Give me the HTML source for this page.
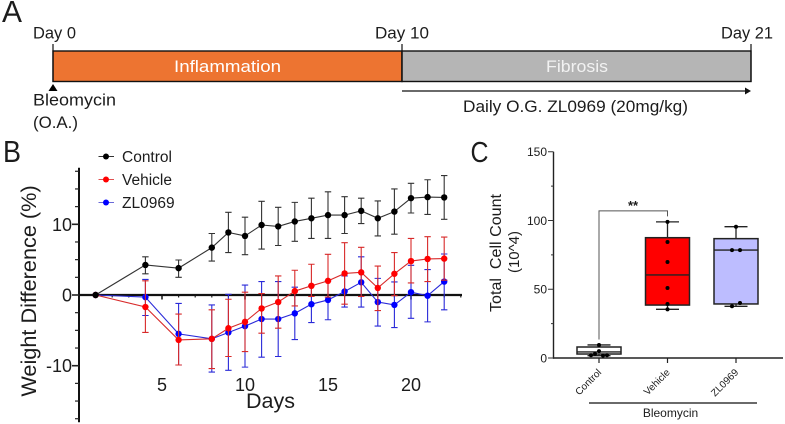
<!DOCTYPE html>
<html lang="en">
<head>
<meta charset="utf-8">
<title>Bleomycin study figure</title>
<style>
html,body{margin:0;padding:0;background:#fff;width:785px;height:424px;overflow:hidden}
svg{display:block}
text{font-family:"Liberation Sans",sans-serif;fill:#1c1c1c}
</style>
</head>
<body>
<svg id="fig" width="785" height="424" viewBox="0 0 785 424" xmlns="http://www.w3.org/2000/svg">
  <g id="panelA">
    <text x="2" y="22" font-size="31" textLength="20" lengthAdjust="spacingAndGlyphs">A</text>
    <text x="33" y="38.5" font-size="17" textLength="43" lengthAdjust="spacingAndGlyphs">Day 0</text>
    <text x="375" y="38.5" font-size="17" textLength="54" lengthAdjust="spacingAndGlyphs">Day 10</text>
    <text x="721" y="38.5" font-size="17" textLength="52" lengthAdjust="spacingAndGlyphs">Day 21</text>
    <rect x="53" y="51" width="349" height="30.5" fill="#ed7431" stroke="#111" stroke-width="1.4"/>
    <rect x="402" y="51" width="349" height="30.5" fill="#b5b5b5" stroke="#111" stroke-width="1.4"/>
    <path d="M53 44V82M402 44V82M751 44V82" stroke="#111" stroke-width="1.2" fill="none"/>
    <text x="174" y="72" font-size="17" textLength="107" lengthAdjust="spacingAndGlyphs" style="fill:#fff">Inflammation</text>
    <text x="546" y="72" font-size="17" textLength="62" lengthAdjust="spacingAndGlyphs" style="fill:#f2f2f2">Fibrosis</text>
    <path d="M53 84L57.5 91H48.5Z" fill="#000"/>
    <text x="33" y="105.5" font-size="17" textLength="83" lengthAdjust="spacingAndGlyphs">Bleomycin</text>
    <text x="33" y="128" font-size="17" textLength="45" lengthAdjust="spacingAndGlyphs">(O.A.)</text>
    <path d="M402 91H746" stroke="#111" stroke-width="1.2" fill="none"/>
    <path d="M751 91L745 87.5V94.5Z" fill="#111"/>
    <text x="463" y="112" font-size="17" textLength="225" lengthAdjust="spacingAndGlyphs">Daily O.G. ZL0969 (20mg/kg)</text>
  </g>
  <g id="panelB">
    <text x="3" y="162" font-size="31" textLength="18" lengthAdjust="spacingAndGlyphs">B</text>
    <text transform="translate(36 291) rotate(-90)" text-anchor="middle" font-size="21.7">Weight Difference (%)</text>
    <text x="246" y="408" font-size="21.5">Days</text>
  </g>
  <g id="panelC">
    <text x="470.5" y="162" font-size="29" textLength="18" lengthAdjust="spacingAndGlyphs">C</text>
    <text transform="translate(501 253) rotate(-90)" text-anchor="middle" font-size="15.5" textLength="118" lengthAdjust="spacingAndGlyphs" style="white-space:pre" xml:space="preserve">Total  Cell Count</text>
    <text transform="translate(519 252) rotate(-90)" text-anchor="middle" font-size="15">(10^4)</text>
    <text x="670.5" y="417" text-anchor="middle" font-size="12">Bleomycin</text>
    <path d="M589 403H757" stroke="#111" stroke-width="1.2" fill="none"/>
  </g>
</svg>
<script>
// Panel B data
const days = [1, 4, 6, 8, 9, 10, 11, 12, 13, 14, 15, 16, 17, 18, 19, 20, 21, 22];
const controlMean = [0, 4.25, 3.8, 6.7, 8.85, 8.35, 9.9, 9.7, 10.4, 10.85, 11.3, 11.3, 11.9, 10.85, 11.8, 13.7, 13.85, 13.8];
const controlHigh = [0, 5.4, 4.95, 8.7, 11.7, 11.0, 13.25, 12.4, 13.1, 13.7, 14.6, 13.9, 13.7, 13.3, 15.0, 15.8, 16.3, 16.9];
const controlLow = [0, 3.0, 2.5, 4.8, 6.0, 5.7, 6.5, 7.0, 7.6, 8.0, 8.0, 8.7, 10.1, 8.35, 8.6, 11.6, 11.4, 10.7];
const vehicleMean = [0, -1.7, -6.35, -6.2, -4.7, -3.8, -1.9, -1.0, 0.55, 1.3, 2.0, 3.05, 3.2, 1.0, 3.0, 4.8, 5.1, 5.15];
const vehicleHigh = [0, 2.0, -2.7, -2.1, -0.6, 0.4, 0.2, 2.7, 3.5, 4.35, 5.75, 7.4, 6.75, 4.1, 6.0, 8.0, 8.25, 8.2];
const vehicleLow = [0, -5.3, -9.9, -10.4, -8.7, -8.0, -5.4, -4.7, -1.55, -0.2, -0.3, -1.3, -0.2, -2.2, -0.1, 1.7, 1.9, 2.1];
const zlMean = [0, -0.3, -5.5, -6.2, -5.3, -4.4, -3.4, -3.4, -2.6, -1.3, -0.7, 0.5, 1.8, -1.0, -1.4, 0.4, -0.1, 1.9];
const zlHigh = [0, 2.2, -1.2, -1.4, 0.1, 1.4, 1.9, 1.9, 1.1, 1.3, 2.0, 2.7, 5.4, 2.35, 1.85, 4.2, 3.6, 5.8];
const zlLow = [0, -2.9, -9.9, -10.9, -10.65, -10.2, -8.8, -8.7, -6.3, -3.9, -3.5, -1.7, -1.7, -4.4, -4.6, -3.3, -3.8, -2.1];
const weightYTicks = [-10, 0, 10];
const dayTicks = [5, 10, 15, 20];
const legendNames = ["Control", "Vehicle", "ZL0969"];

// Panel C data
const groups = ["Control", "Vehicle", "ZL0969"];
const boxLow = [1.7, 35.4, 37.6];
const boxQ1 = [2.9, 38.5, 39.3];
const boxMedian = [4.4, 60.4, 78.5];
const boxQ3 = [8, 87.5, 86.8];
const boxHigh = [9.5, 99, 95.5];
const controlPoints = [9.5, 5, 3, 2, 2, 1.7];
const vehiclePoints = [99, 84.4, 69.8, 50.9, 39.3, 35.4];
const zlPoints = [95.5, 78.5, 78.5, 40, 37.6];
const countTicks = [0, 50, 100, 150];

const NS = "http://www.w3.org/2000/svg";
function mk(parent, tag, attrs, text) {
  const el = document.createElementNS(NS, tag);
  for (const k in attrs) el.setAttribute(k, attrs[k]);
  if (text !== undefined) el.textContent = text;
  parent.appendChild(el);
  return el;
}
const xB = d => 79 + 16.6 * d;
const yB = v => 295 - 7.07 * v;
const bandC = i => 599 + 68.5 * i;
const yC = v => 358 - 1.375 * v;

const B = document.getElementById("panelB");
const C = document.getElementById("panelC");

// Panel B axes
const yAxis = mk(B, "path", { d: "M79 " + yB(18) + "V" + yB(-18), stroke: "#111", "stroke-width": 2, fill: "none" });


for (let v = -17.5; v <= 17.5; v += 2.5) {
  const major = v % 10 === 0;
  const t = mk(B, "line", { x1: major ? 72 : 75, x2: 79, y1: yB(v), y2: yB(v), stroke: "#222", "stroke-width": major ? 1.6 : 1.2 });
  
  
}
weightYTicks.forEach(v => {
  const t = mk(B, "text", { x: 72, y: yB(v) + 6.5, "text-anchor": "end", "font-size": 18 }, String(v));
  
  
});
for (let d = 1; d <= 23; d++) {
  const major = d % 5 === 0;
  const t = mk(B, "line", { x1: xB(d), x2: xB(d), y1: 295, y2: major ? 299.5 : 297.5, stroke: "#222", "stroke-width": major ? 1.6 : 1.2 });
  
  
}
const xAxis = mk(B, "path", { d: "M79 295H462", stroke: "#111", "stroke-width": 2.2, fill: "none" });


dayTicks.forEach(d => {
  const t = mk(B, "text", { x: xB(d), y: 391, "text-anchor": "middle", "font-size": 18 }, String(d));
  
  
});

// Panel B series
function drawSeries(mean, high, low, color, lineColor, name) {
  const g = mk(B, "g", {});
  
  
  days.forEach((d, i) => {
    if (high[i] === low[i]) return;
    const x = xB(d), cap = 3.2;
    const e = mk(g, "path", {
      d: "M" + x + " " + yB(high[i]) + "V" + yB(low[i]) +
         "M" + (x - cap) + " " + yB(high[i]) + "H" + (x + cap) +
         "M" + (x - cap) + " " + yB(low[i]) + "H" + (x + cap),
      stroke: lineColor, "stroke-width": 1.1, fill: "none" });
    
    
  });
  const pl = mk(g, "polyline", { points: days.map((d, i) => xB(d) + "," + yB(mean[i])).join(" "), fill: "none", stroke: lineColor, "stroke-width": 1.1 });
  
  
  days.forEach((d, i) => {
    const p = mk(g, "circle", { cx: xB(d), cy: yB(mean[i]), r: 3.2, fill: color });
    
    
  });
}
drawSeries(zlMean, zlHigh, zlLow, "#0000ff", "#2a2ad8", "zl0969");
drawSeries(vehicleMean, vehicleHigh, vehicleLow, "#ff0000", "#d82a2a", "vehicle");
drawSeries(controlMean, controlHigh, controlLow, "#000000", "#333333", "control");

// Panel B legend
const legendColors = ["#000000", "#ff0000", "#0000ff"];
const legendLines = ["#333333", "#e05050", "#6a6ad8"];
legendNames.forEach((n, i) => {
  const y = 156.5 + 23 * i;
  const g = mk(B, "g", {});
  
  
  const l = mk(g, "line", { x1: 98.5, x2: 114, y1: y, y2: y, stroke: legendLines[i], "stroke-width": 1 });
  
  
  const c = mk(g, "circle", { cx: 106, cy: y, r: 3, fill: legendColors[i] });
  
  
  const t = mk(g, "text", { x: 122, y: y + 5.5, "font-size": 15.5 }, n);
  
  
});

// Panel C axes
const cYAxis = mk(C, "path", { d: "M553.5 " + yC(150) + "V" + (yC(0) + 0.7), stroke: "#222", "stroke-width": 1.4, fill: "none" });


const cXAxis = mk(C, "path", { d: "M553 " + yC(0) + "H783", stroke: "#222", "stroke-width": 1.4, fill: "none" });


for (let v = 0; v <= 150; v += 25) {
  const major = v % 50 === 0;
  const t = mk(C, "line", { x1: major ? 548 : 551, x2: 553.5, y1: yC(v), y2: yC(v), stroke: "#333", "stroke-width": 1 });
  
  
}
countTicks.forEach(v => {
  const t = mk(C, "text", { x: 547, y: yC(v) + 4.3, "text-anchor": "end", "font-size": 12 }, String(v));
  
  
});

// Panel C boxes
const boxFill = ["#ffffff", "#ff0000", "#bdbdff"];
const pointSets = [controlPoints, vehiclePoints, zlPoints];
const pointOffsets = [[0, 0, -4, -8, 8, 4], [0, 0, 0, 0, 0, 0], [0, -4, 4, 4, -4]];
groups.forEach((n, i) => {
  const x = bandC(i), hw = 22, cap = 11.5;
  const g = mk(C, "g", {});
  
  
  const w = mk(g, "path", {
    d: "M" + x + " " + yC(boxHigh[i]) + "V" + yC(boxLow[i]) +
       "M" + (x - cap) + " " + yC(boxHigh[i]) + "H" + (x + cap) +
       "M" + (x - cap) + " " + yC(boxLow[i]) + "H" + (x + cap),
    stroke: "#222", "stroke-width": 1.3, fill: "none" });
  
  
  const r = mk(g, "rect", { x: x - hw, y: yC(boxQ3[i]), width: 2 * hw, height: yC(boxQ1[i]) - yC(boxQ3[i]), fill: boxFill[i], stroke: "#222", "stroke-width": 1.5 });
  
  
  const m = mk(g, "line", { x1: x - hw, x2: x + hw, y1: yC(boxMedian[i]), y2: yC(boxMedian[i]), stroke: "#222", "stroke-width": 1.3 });
  
  
  pointSets[i].forEach((v, j) => {
    const p = mk(g, "circle", { cx: x + pointOffsets[i][j], cy: yC(v), r: 2, fill: "#000" });
    
    
  });
  const t = mk(C, "line", { x1: x, x2: x, y1: yC(0), y2: yC(0) + 5, stroke: "#222", "stroke-width": 1.2 });
  
  
  const lx = x + 3, ly = 373;
  const lab = mk(C, "text", { transform: "translate(" + lx + " " + ly + ") rotate(-45)", "text-anchor": "end", "font-size": 10 }, n);
  
  
});

// Significance bracket
const bracket = mk(C, "path", { d: "M" + bandC(0) + " 339.5V" + yC(107) + "H" + bandC(1) + "V" + yC(103), stroke: "#555", "stroke-width": 1, fill: "none" });


const stars = mk(C, "text", { x: 633, y: 210, "text-anchor": "middle", "font-size": 13, "font-weight": "bold" }, "**");


</script>
</body>
</html>
